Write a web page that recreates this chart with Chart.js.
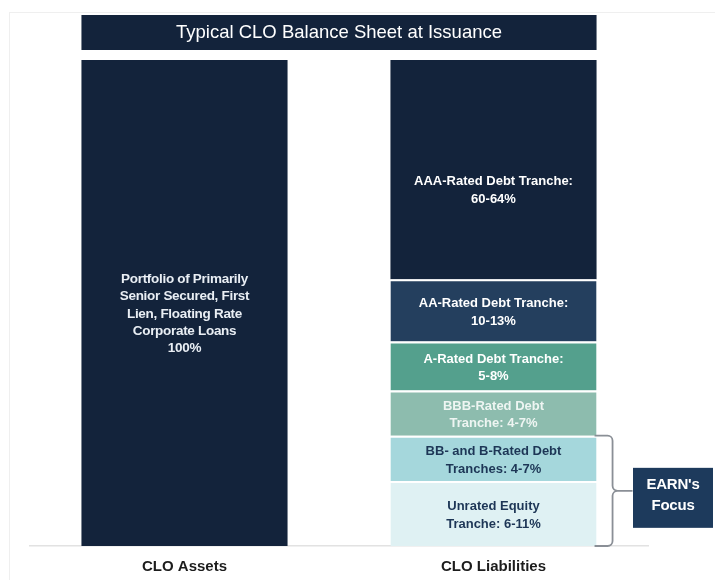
<!DOCTYPE html>
<html>
<head>
<meta charset="utf-8">
<script src="https://cdn.jsdelivr.net/npm/chart.js@4.4.1/dist/chart.umd.min.js"></script>
<style>
  body { margin: 0; background: #fff; }
  #wrap { width: 715px; height: 580px; position: relative; }
</style>
</head>
<body>
<div id="wrap"><canvas id="grafico"></canvas></div>
<script>
// datos (alto de cada tramo como % de la barra)
const categorias = ["CLO Assets", "CLO Liabilities"];
const activos = [100];
const tramos = ["AAA", "AA", "A", "BBB", "BB/B", "Equity"];
const alturasTramos = [45.1, 12.8, 10.1, 9.3, 9.3, 13.4];
const textoActivos = ["Portfolio of Primarily", "Senior Secured, First", "Lien, Floating Rate", "Corporate Loans", "100%"];
const textosTramos = [
    ["AAA-Rated Debt Tranche:", "60-64%"],
    ["AA-Rated Debt Tranche:", "10-13%"],
    ["A-Rated Debt Tranche:", "5-8%"],
    ["BBB-Rated Debt", "Tranche: 4-7%"],
    ["BB- and B-Rated Debt", "Tranches: 4-7%"],
    ["Unrated Equity", "Tranche: 6-11%"]
];
const titulo = "Typical CLO Balance Sheet at Issuance";
const focoTexto = ["EARN's", "Focus"];

const coloresTramos = ["#13233b", "#243f5e", "#54a08d", "#8dbcae", "#a5d7dc", "#dff1f3"];
const coloresTexto = ["#ffffff", "#ffffff", "#ffffff", "#eef5f2", "#1d3656", "#1d3656"];
const navy = "#13233b";
const fuente = "'Liberation Sans', Arial, sans-serif";

// apilar de abajo hacia arriba: Equity primero
const ordenApilado = tramos.map((t, i) => i).reverse();
const datasets = [{
    label: "Assets",
    data: [activos[0], null],
    backgroundColor: navy,
    borderWidth: 0
}];
ordenApilado.forEach(i => {
    datasets.push({
        label: tramos[i],
        data: [null, alturasTramos[i]],
        backgroundColor: coloresTramos[i],
        borderColor: "#ffffff",
        borderWidth: i === 0 ? 0 : { top: 2, bottom: 0, left: 0, right: 0 },
        borderSkipped: false,
        idxTramo: i
    });
});

function lineas(ctx, textos, x, yCentro, alto) {
    const y0 = yCentro - (textos.length - 1) * alto / 2;
    textos.forEach((t, k) => ctx.fillText(t, x, y0 + k * alto));
}

const decoracion = {
    id: "decoracion",
    afterDatasetsDraw(chart) {
        const ctx = chart.ctx;
        const barraIzq = chart.getDatasetMeta(0).data[0];
        const arriba = chart.getDatasetMeta(1 + ordenApilado.indexOf(0)).data[1];
        const abajo = chart.getDatasetMeta(1).data[1];
        ctx.save();

        // marco suave
        ctx.strokeStyle = "#efefef";
        ctx.lineWidth = 1;
        ctx.strokeRect(9.5, 12.5, 720, 580);

        // caja de titulo
        const izq = barraIzq.x - barraIzq.width / 2;
        const der = arriba.x + arriba.width / 2;
        ctx.fillStyle = navy;
        ctx.fillRect(izq, 15, der - izq, 35);
        ctx.fillStyle = "#ffffff";
        ctx.textAlign = "center";
        ctx.textBaseline = "middle";
        ctx.font = "18.5px " + fuente;
        ctx.letterSpacing = "0px";
        ctx.fillText(titulo, (izq + der) / 2, 33);

        // texto barra de activos
        ctx.font = "bold 13.5px " + fuente;
        ctx.letterSpacing = "-0.3px";
        ctx.fillStyle = "#e9eef4";
        lineas(ctx, textoActivos, barraIzq.x, (barraIzq.y + barraIzq.base) / 2 + 11, 17.3);

        // textos de tramos
        ctx.font = "bold 13px " + fuente;
        ctx.letterSpacing = "0px";
        chart.data.datasets.forEach((ds, di) => {
            if (ds.idxTramo === undefined) return;
            const el = chart.getDatasetMeta(di).data[1];
            const i = ds.idxTramo;
            ctx.fillStyle = coloresTexto[i];
            const desvio = i === 0 ? 21 : 2;
            lineas(ctx, textosTramos[i], el.x, (el.y + el.base) / 2 + desvio, 17.5);
        });

        // llave para BB y Equity
        const bb = chart.getDatasetMeta(1 + ordenApilado.indexOf(4)).data[1];
        const yTop = bb.y, yBot = abajo.base;
        const x0 = bb.x + bb.width / 2 - 2, x1 = x0 + 18, r = 5;
        const yMid = (yTop + yBot) / 2;
        ctx.strokeStyle = "#8a8f96";
        ctx.lineWidth = 1.8;
        ctx.beginPath();
        ctx.moveTo(x0, yTop);
        ctx.arcTo(x1, yTop, x1, yTop + r, r);
        ctx.lineTo(x1, yMid - r);
        ctx.arcTo(x1, yMid, x1 + r, yMid, r);
        ctx.lineTo(x1 + 20, yMid);
        ctx.moveTo(x1 + r, yMid);
        ctx.arcTo(x1, yMid, x1, yMid + r, r);
        ctx.lineTo(x1, yBot - r);
        ctx.arcTo(x1, yBot, x1 - r, yBot, r);
        ctx.lineTo(x0, yBot);
        ctx.stroke();

        // caja EARN's Focus
        ctx.fillStyle = "#1d3a5c";
        ctx.fillRect(633, yMid - 23, 80, 60);
        ctx.fillStyle = "#ffffff";
        ctx.font = "bold 15px " + fuente;
        ctx.letterSpacing = "-0.2px";
        lineas(ctx, focoTexto, 673, yMid + 5, 21);

        ctx.restore();
    }
};

new Chart(document.getElementById("grafico").getContext("2d"), {
    type: "bar",
    data: { labels: categorias, datasets },
    options: {
        responsive: true,
        maintainAspectRatio: false,
        animation: false,
        layout: { padding: { top: 60, left: 30, right: 67, bottom: -8 } },
        datasets: { bar: { categoryPercentage: 0.667, barPercentage: 1 } },
        plugins: { legend: { display: false }, tooltip: { enabled: false }, title: { display: false } },
        scales: {
            x: {
                stacked: true,
                grid: { display: false, drawTicks: false, tickLength: 0 },
                border: { display: true, color: "#e2e2e2", width: 1.5 },
                ticks: { color: "#1c1c1c", padding: 12, font: { family: fuente, size: 15, weight: "bold" } }
            },
            y: { stacked: true, display: false, min: 0, max: 100 }
        }
    },
    plugins: [decoracion]
});
</script>
</body>
</html>
